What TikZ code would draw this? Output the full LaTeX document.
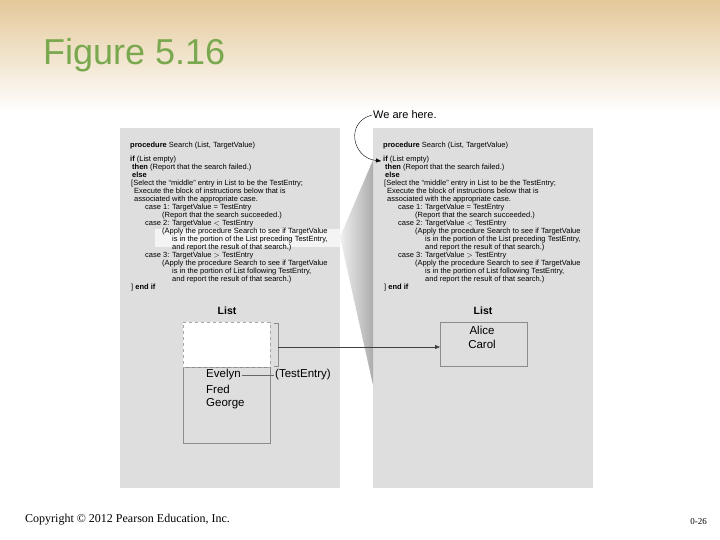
\documentclass[tikz,border=0pt]{standalone}
\usepackage{fontspec}
\setmainfont{Liberation Serif}
\setsansfont{Liberation Sans}
\usetikzlibrary{arrows.meta,positioning}

\definecolor{slidetan}{HTML}{E3C899}
\definecolor{titlegreen}{HTML}{79A84F}
\definecolor{panelgray}{HTML}{DEDEDE}
\definecolor{boxline}{HTML}{8C8C8C}

% the procedure text, shown in both panels
\newcommand{\searchcode}{%
\textbf{procedure} Search (List, TargetValue)\\[6pt]
\textbf{if} (List empty)\\
\hspace*{2pt}\textbf{then} (Report that the search failed.)\\
\hspace*{2pt}\textbf{else}\\
\hspace*{1pt}[Select the ``middle'' entry in List to be the TestEntry;\\
\hspace*{4pt}Execute the block of instructions below that is\\
\hspace*{4pt}associated with the appropriate case.\\
\hspace*{15pt}case 1: TargetValue = TestEntry\\
\hspace*{32pt}(Report that the search succeeded.)\\
\hspace*{15pt}case 2: TargetValue $<$ TestEntry\\
\hspace*{32pt}(Apply the procedure Search to see if TargetValue\\
\hspace*{42pt}is in the portion of the List preceding TestEntry,\\
\hspace*{42pt}and report the result of that search.)\\
\hspace*{15pt}case 3: TargetValue $>$ TestEntry\\
\hspace*{32pt}(Apply the procedure Search to see if TargetValue\\
\hspace*{42pt}is in the portion of List following TestEntry,\\
\hspace*{42pt}and report the result of that search.)\\
\hspace*{1pt}] \textbf{end if}}

\begin{document}
\begin{tikzpicture}[
    x=1pt, y=-1pt,
    panel/.style={
        rectangle,
        fill=panelgray,
        draw=none,
        minimum width=220pt,
        minimum height=360pt,
        inner sep=0pt
    },
    code/.style={
        align=left,
        inner sep=0pt,
        font=\sffamily\fontsize{7.5}{8}\selectfont
    },
    listbox/.style={
        rectangle,
        draw=boxline,
        minimum width=87pt,
        inner sep=0pt
    },
    listhead/.style={
        font=\sffamily\bfseries\fontsize{10.5}{12}\selectfont
    },
    entry/.style={
        inner sep=1pt,
        font=\sffamily\fontsize{11.5}{14}\selectfont
    },
    line/.style={
        draw=black!75,
        thin,
        -{Triangle[length=5pt,width=4pt]}
    }
]
    \useasboundingbox (0,0) rectangle (720,540);

    % --- Slide background ---
    \fill[white] (0,0) rectangle (720,540);
    \shade[top color=slidetan, bottom color=white] (0,0) rectangle (720,112);
    \node[anchor=base west, inner sep=0pt, text=titlegreen,
          font=\sffamily\fontsize{36}{40}\selectfont] (title) at (43,65) {Figure 5.16};

    % --- Panels ---
    \node[panel, anchor=north west] (leftpanel) at (120,128) {};
    \node[panel, anchor=north west] (rightpanel) at (373,128) {};
    \fill[white!65!panelgray] (155,229) rectangle (340,247);

    % fan from the calling line to the new activation
    \coordinate (apex) at (340,237);
    \shade[left color=gray!12, right color=gray!65]
        (apex) -- (rightpanel.north west |- 0,160) -- (rightpanel.north west |- 0,385) -- cycle;

    % --- Procedure text ---
    \node[code, anchor=north west] (leftcode) at (130,142) {\searchcode};
    \node[code, anchor=north west] (rightcode) at (383,142) {\searchcode};

    % --- We are here ---
    \node[anchor=west, inner sep=1pt, font=\sffamily\fontsize{11}{13}\selectfont]
        (here) at (372,115) {We are here.};
    \coordinate (ifmark) at (381,161);
    \draw[-{Triangle[length=5pt,width=4pt]}, thin]
        (here.west) .. controls (345,122) and (352,158) .. (ifmark);

    % --- Left list ---
    \node[listhead] (leftlisthead) at (227,311) {List};
    \node[listbox, anchor=north west, minimum height=76pt] (leftlist) at (183,367) {};
    \node[listbox, anchor=south west, minimum height=45pt, fill=white,
          dashed, draw=gray!70] (gap) at (183,367) {};
    \draw[boxline] (274,323) -- (278,323) -- (278,366) -- (274,366);
    \coordinate (brk) at (278,347);

    \node[entry, anchor=west] (evelyn) at (205,375) {Evelyn};
    \node[entry, anchor=west] (fred) at (205,389) {Fred};
    \node[entry, anchor=west] (george) at (205,404) {George};
    \node[entry, anchor=west] (testentry) at (274,375) {(TestEntry)};
    \draw[black!60] (evelyn.east) -- (testentry.west);

    % --- Right list ---
    \node[listhead] (rightlisthead) at (483,311) {List};
    \node[listbox, anchor=north west, minimum height=44pt] (rightlist) at (440,322) {};
    \node[entry] (alice) at (482,330) {Alice};
    \node[entry] (carol) at (482,344) {Carol};

    % --- Flow line ---
    \path[line] (brk) -- (brk -| rightlist.west);

    % --- Footer ---
    \node[anchor=base west, inner sep=0pt, font=\fontsize{12}{14}\selectfont]
        (copyright) at (25,522) {Copyright \textcopyright{} 2012 Pearson Education, Inc.};
    \node[anchor=base east, inner sep=0pt, font=\fontsize{9}{11}\selectfont]
        (pagenum) at (707,524) {0-26};
\end{tikzpicture}
\end{document}
